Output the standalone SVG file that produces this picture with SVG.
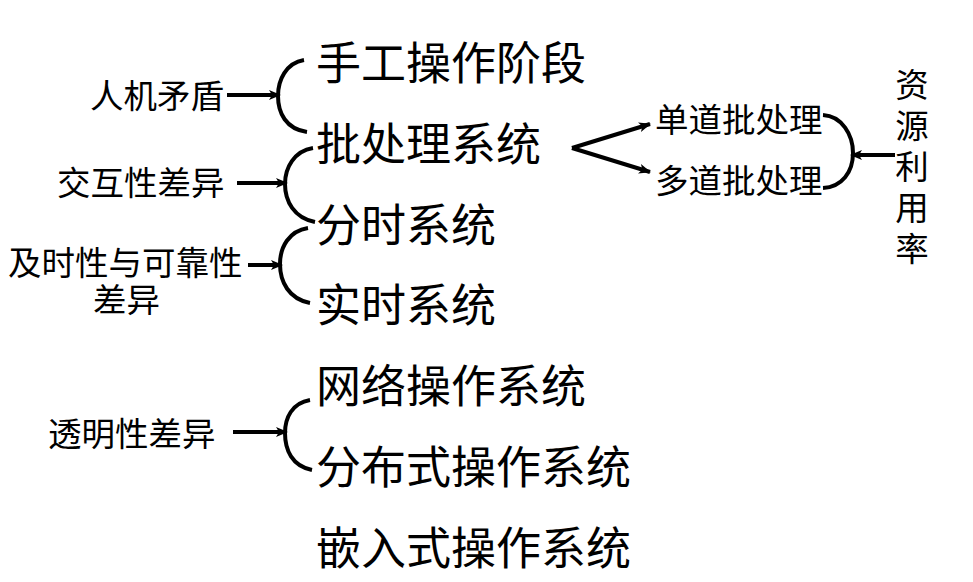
<svg xmlns="http://www.w3.org/2000/svg" width="973" height="582" viewBox="0 0 973 582">
<defs>
<marker id="ah" markerWidth="12" markerHeight="10" refX="11" refY="5" orient="auto" markerUnits="userSpaceOnUse">
<path d="M0,0 L12,5 L0,10 L3,5 Z" fill="#000"/>
</marker>
<style>
.big{font-family:"Noto Sans CJK SC","Noto Sans",sans-serif;font-size:45px;fill:#000}
.sm{font-family:"Noto Sans CJK SC","Noto Sans",sans-serif;font-size:33.5px;fill:#000}
.ln{fill:none;stroke:#000;stroke-width:4}
.ar{fill:none;stroke:#000;stroke-width:4;marker-end:url(#ah)}
</style>
</defs>
<rect width="973" height="582" fill="#fff"/>
<g id="n-manual"><text class="big" x="316" y="80">手工操作阶段</text></g>
<g id="n-batch"><text class="big" x="316" y="161">批处理系统</text></g>
<g id="n-timeshare"><text class="big" x="316" y="242">分时系统</text></g>
<g id="n-realtime"><text class="big" x="316" y="322">实时系统</text></g>
<g id="n-network"><text class="big" x="316" y="403">网络操作系统</text></g>
<g id="n-distributed"><text class="big" x="316" y="484">分布式操作系统</text></g>
<g id="n-embedded"><text class="big" x="316" y="565">嵌入式操作系统</text></g>
<g id="n-conflict"><text class="sm" x="90" y="108">人机矛盾</text></g>
<g id="n-interact"><text class="sm" x="57" y="195">交互性差异</text></g>
<g id="n-timely"><text class="sm"><tspan x="8" y="275">及时性与可靠性</tspan><tspan x="93" y="312">差异</tspan></text></g>
<g id="n-transparent"><text class="sm" x="48" y="446">透明性差异</text></g>
<g id="n-single"><text class="sm" x="655" y="132">单道批处理</text></g>
<g id="n-multi"><text class="sm" x="655" y="193">多道批处理</text></g>
<g id="n-resource"><text class="sm" x="912" y="68" writing-mode="vertical-rl" letter-spacing="7.5">资源利用率</text></g>
<g id="connectors">
<path class="ln" d="M304,60 C286,63 278,80 278,96 C278,113 286,129 307,132"/>
<path class="ar" d="M227,95 L280,95"/>
<path class="ln" d="M313,148 C294,151 285,168 285,184 C285,201 294,218 315,222"/>
<path class="ar" d="M237,183 L287,183"/>
<path class="ln" d="M308,228 C289,231 280,247 280,264 C280,282 289,299 310,303"/>
<path class="ar" d="M248,265 L282,265"/>
<path class="ln" d="M310,400 C292,403 285,418 285,433 C285,450 292,466 312,470"/>
<path class="ar" d="M233,432 L287,432"/>
<path class="ar" d="M572,148 L650,124"/>
<path class="ar" d="M572,148 L650,172"/>
<path class="ln" d="M823,115 C842,116 853,135 853,153 C853,172 842,187 823,188"/>
<path class="ar" d="M895,155 L851,155"/>
</g>
</svg>
